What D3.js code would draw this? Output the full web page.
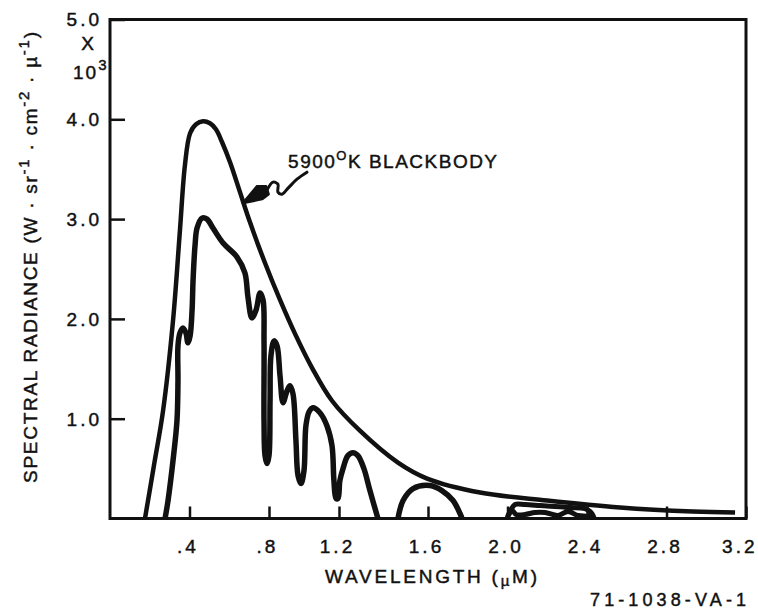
<!DOCTYPE html>
<html><head><meta charset="utf-8">
<script src="https://cdn.jsdelivr.net/npm/d3@7"></script>
<style>
html,body{margin:0;padding:0;background:#fff;}
svg{display:block;}
text{font-family:"Liberation Sans",Arial,Helvetica,sans-serif;fill:#111;stroke:#111;stroke-width:0.45px;}
</style>
</head><body>
<svg id="chart" width="758" height="612"></svg>
<script>
// ---------- data (wavelength in µm, spectral radiance ×10^3) ----------
const xTickValues = [0.4, 0.8, 1.2, 1.6, 2.0, 2.4, 2.8, 3.2];
const xTickLabels = [".4", ".8", "1.2", "1.6", "2.0", "2.4", "2.8", "3.2"];
const yTickValues = [1, 2, 3, 4, 5];
const yTickLabels = ["1.0", "2.0", "3.0", "4.0", "5.0"];

// 5900 K blackbody curve
const blackbody = [[0.176,0],[0.221,0.53],[0.267,1.08],[0.317,1.98],[0.352,2.89],[0.377,3.54],[0.403,3.86],[0.433,3.95],[0.468,3.98],[0.503,3.96],[0.533,3.90],[0.564,3.77],[0.604,3.57],[0.654,3.27],[0.704,2.97],[0.780,2.56],[0.863,2.19],[0.949,1.85],[1.046,1.51],[1.160,1.18],[1.294,0.88],[1.465,0.56],[1.596,0.40],[1.862,0.26],[2.199,0.18],[2.566,0.11],[2.933,0.07],[3.145,0.06]];

// attenuated (observed) spectrum, three separate pieces
const solarMain = [[0.277,0],[0.292,0.18],[0.317,0.58],[0.337,0.98],[0.342,1.38],[0.342,1.73],[0.352,1.86],[0.367,1.91],[0.382,1.86],[0.392,1.76],[0.403,1.83],[0.413,2.09],[0.418,2.39],[0.428,2.74],[0.438,2.91],[0.463,3.01],[0.488,3.00],[0.518,2.91],[0.569,2.76],[0.639,2.62],[0.679,2.46],[0.694,2.22],[0.714,2.01],[0.735,2.09],[0.755,2.26],[0.770,2.19],[0.775,1.78],[0.775,0.98],[0.780,0.63],[0.790,0.55],[0.800,0.63],[0.806,1.18],[0.811,1.63],[0.829,1.78],[0.846,1.73],[0.863,1.43],[0.880,1.16],[0.903,1.28],[0.920,1.33],[0.937,1.25],[0.954,0.78],[0.966,0.43],[0.983,0.35],[1.000,0.48],[1.011,0.93],[1.029,1.07],[1.051,1.11],[1.091,1.06],[1.131,0.93],[1.160,0.73],[1.171,0.38],[1.183,0.20],[1.194,0.20],[1.204,0.38],[1.218,0.50],[1.240,0.63],[1.263,0.66],[1.285,0.63],[1.312,0.50],[1.339,0.28],[1.375,0]];
const solarBand2 = [[1.465,0],[1.488,0.18],[1.533,0.30],[1.610,0.33],[1.670,0.28],[1.726,0.18],[1.761,0.05],[1.771,0]];
const solarBand3 = [[1.997,0],[2.018,0.09],[2.038,0.14],[2.088,0.14],[2.164,0.13],[2.239,0.12],[2.314,0.11],[2.390,0.10],[2.420,0.06],[2.435,0],[2.405,0.02],[2.355,0.03],[2.304,0.07],[2.254,0.03],[2.189,0.06],[2.138,0.06],[2.088,0.04],[2.043,0.04],[2.023,0.08]];

// annotation arrow (data coordinates)
const arrowTail = [[0.790,3.29],[0.823,3.37],[0.851,3.35],[0.851,3.27],[0.874,3.25],[0.909,3.31],[0.960,3.40],[1.017,3.47]];
const arrowHead = [[0.669,3.16],[0.740,3.33],[0.785,3.33],[0.798,3.25],[0.765,3.20]];
const labelAt = [0.909, 3.51];

// ---------- drawing ----------
const ink = "#111";
const svg = d3.select("#chart");
const x = d3.scaleLinear().domain([0, 0.8, 1.2, 1.6, 3.2]).range([110, 269, 339, 428, 746]);
const y = d3.scaleLinear().domain([0, 5]).range([518.5, 19.5]);

function fit(t, target) {
  t.style("letter-spacing", "0px");
  const n = t.text().length;
  const w = t.node().getComputedTextLength();
  t.style("letter-spacing", ((target - w) / (n - 1)) + "px");
}

svg.append("defs").append("clipPath").attr("id", "plot")
  .append("rect").attr("x", x(0)).attr("y", y(5)).attr("width", x(3.2) - x(0)).attr("height", y(0) - y(5) + 1);

// frame
svg.append("rect").attr("x", x(0)).attr("y", y(5)).attr("width", x(3.2) - x(0)).attr("height", y(0) - y(5))
  .attr("fill", "none").attr("stroke", ink).attr("stroke-width", 3);

// x axis
const gx = svg.append("g").attr("transform", `translate(0,${y(0)})`)
  .call(d3.axisBottom(x).tickValues(xTickValues).tickFormat((d, i) => xTickLabels[i]).tickSize(-12).tickPadding(0));
gx.select(".domain").remove();
gx.selectAll(".tick line").attr("stroke", ink).attr("stroke-width", 2.5);
gx.selectAll(".tick text").attr("y", 34).attr("dy", 0).attr("dx", -2)
  .attr("font-size", 19).style("letter-spacing", "3px");
gx.selectAll(".tick text").filter(d => d === 3.2).attr("text-anchor", "end").attr("dx", 0).attr("x", 757 - x(3.2));

// y axis
const gy = svg.append("g").attr("transform", `translate(${x(0)},0)`)
  .call(d3.axisLeft(y).tickValues(yTickValues).tickFormat((d, i) => yTickLabels[i]).tickSize(-15).tickPadding(0));
gy.select(".domain").remove();
gy.selectAll(".tick line").attr("stroke", ink).attr("stroke-width", 2.5);
gy.selectAll(".tick text").attr("x", -8).attr("dy", "0.34em")
  .attr("font-size", 19).style("letter-spacing", "3px");

// multiplier under the 5.0 label
svg.append("text").attr("x", 87.5).attr("y", y(5) + 30.5).attr("text-anchor", "middle")
  .attr("font-size", 19).text("X");
const mult = svg.append("text").attr("x", 73).attr("y", y(5) + 59.5).attr("font-size", 19).style("letter-spacing", "2px");
mult.append("tspan").text("10");
mult.append("tspan").attr("font-size", 15).attr("dy", -9).text("3");

// curves
const line = d3.line().x(d => x(d[0])).y(d => y(d[1])).curve(d3.curveCatmullRom.alpha(0.5));
const plot = svg.append("g").attr("clip-path", "url(#plot)");
plot.append("path").attr("d", line(blackbody)).attr("fill", "none").attr("stroke", ink)
  .attr("stroke-width", 4.5).attr("stroke-linejoin", "round");
[solarMain, solarBand2].forEach(s => {
  plot.append("path").attr("d", line(s)).attr("fill", "none").attr("stroke", ink)
    .attr("stroke-width", 5.5).attr("stroke-linejoin", "round");
});
const loop = d3.line().x(d => x(d[0])).y(d => y(d[1])).curve(d3.curveCatmullRomClosed.alpha(0.5));
plot.append("path").attr("d", loop(solarBand3)).attr("fill", "none").attr("stroke", ink)
  .attr("stroke-width", 5).attr("stroke-linejoin", "round");

// annotation arrow
svg.append("path").attr("d", line(arrowTail)).attr("fill", "none").attr("stroke", ink)
  .attr("stroke-width", 3).attr("stroke-linecap", "round");
svg.append("path").attr("d", d3.line().x(d => x(d[0])).y(d => y(d[1])).curve(d3.curveLinearClosed)(arrowHead))
  .attr("fill", ink).attr("stroke", ink).attr("stroke-width", 2.5).attr("stroke-linejoin", "round");

// label
const lab = svg.append("text").attr("x", x(labelAt[0])).attr("y", y(labelAt[1])).attr("font-size", 19);
lab.append("tspan").text("5900");
lab.append("tspan").attr("font-size", 13).attr("dy", -8).text("O");
lab.append("tspan").attr("dy", 8).text("K BLACKBODY");
fit(lab, 209);

// x title
const xt = svg.append("text").attr("x", 325).attr("y", 583).attr("font-size", 19);
xt.append("tspan").text("WAVELENGTH (");
xt.append("tspan").attr("font-size", 15).attr("dy", 3).text("µ");
xt.append("tspan").attr("dy", -3).text("M)");
fit(xt, 212);

// y title
const yt = svg.append("text").attr("transform", "translate(37,483) rotate(-90)").attr("font-size", 19);
yt.append("tspan").text("SPECTRAL RADIANCE (W · sr");
yt.append("tspan").attr("font-size", 15).attr("dy", -8).text("-1");
yt.append("tspan").attr("dy", 8).text(" · cm");
yt.append("tspan").attr("font-size", 15).attr("dy", -8).text("-2");
yt.append("tspan").attr("dy", 8).text(" · µ");
yt.append("tspan").attr("font-size", 15).attr("dy", -8).text("-1");
yt.append("tspan").attr("dy", 8).text(")");
fit(yt, 451);

// figure number
const fn = svg.append("text").attr("x", 590).attr("y", 606).attr("font-size", 18).text("71-1038-VA-1");
fit(fn, 156);
</script>
</body></html>
